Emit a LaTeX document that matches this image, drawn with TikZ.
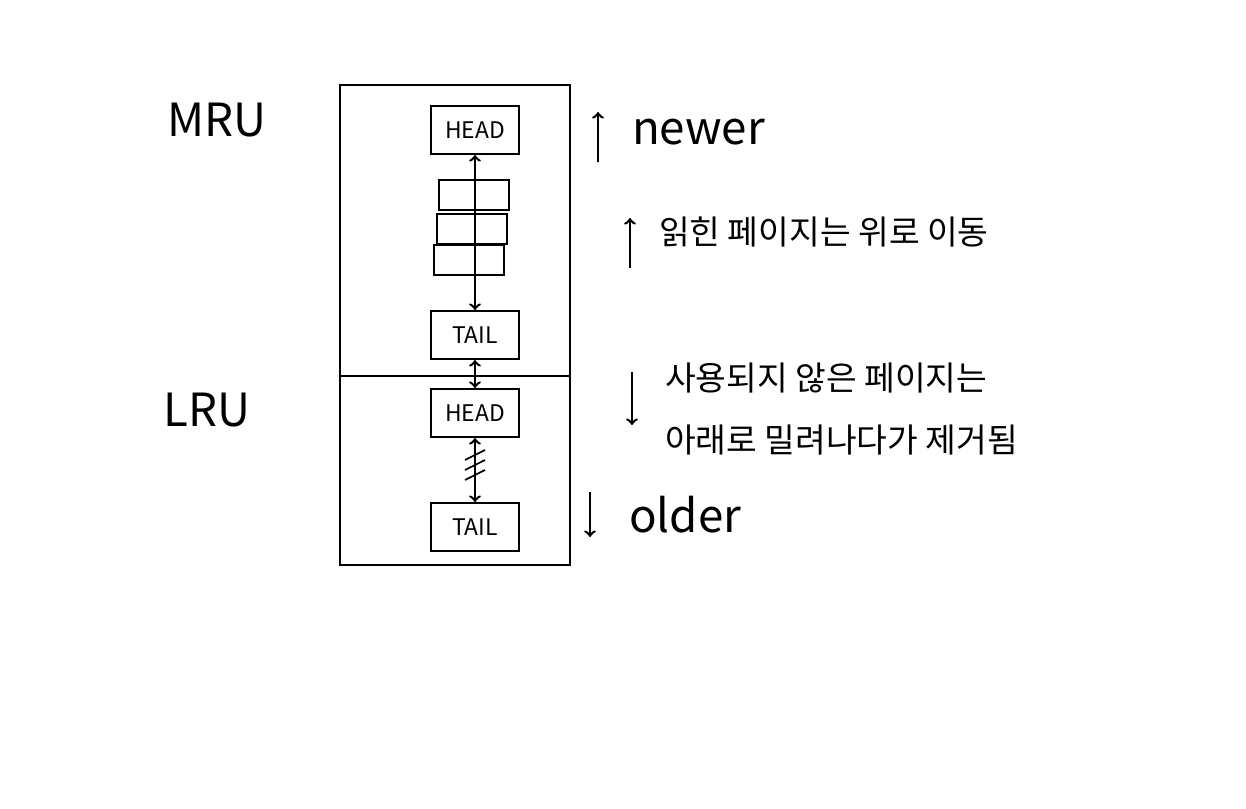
\documentclass[tikz,border=0pt]{standalone}
\usepackage{fontspec}
\setmainfont{Noto Sans CJK KR}
\usetikzlibrary{positioning}

\begin{document}
\begin{tikzpicture}[x=0.02cm, y=-0.02cm, node distance=0.3cm, line width=1.4pt,
    pagebox/.style={draw, rectangle, fill=white, minimum width=1.75cm, minimum height=0.95cm, font=\fontsize{13}{15}\selectfont},
    stackbox/.style={draw, rectangle, minimum width=1.4cm, minimum height=0.6cm},
    big/.style={font=\fontsize{26}{30}\selectfont},
    note/.style={font=\fontsize{19}{35}\selectfont, anchor=west, align=left}]
    \useasboundingbox (0,0) rectangle (1246,808);

    % frame
    \draw (340,85) rectangle (570,565);
    \draw (340,376) -- (570,376);
    \node[big] (mru) at (217,120) {MRU};
    \node[big] (lru) at (207,410) {LRU};

    % MRU part
    \node[pagebox] (mhead) at (475,130) {HEAD};
    \node[stackbox] (s1) at (474,195) {};
    \node[stackbox] (s2) at (472,229) {};
    \node[stackbox] (s3) at (469,260) {};
    \node[pagebox] (mtail) at (475,335) {TAIL};
    \draw[<->] (mhead) -- (mtail);

    % LRU part
    \node[pagebox] (lhead) at (475,413) {HEAD};
    \node[pagebox] (ltail) at (475,527) {TAIL};
    \draw[<->] (mtail) -- (lhead);
    \draw[<->] (lhead) -- (ltail);
    \foreach \y in {455,465,475} \draw[line width=1pt] (465,\y+5) -- (485,\y-5);

    % newer / older
    \coordinate (up0) at (598,162);
    \coordinate (up1) at (598,112);
    \draw[->] (up0) -- (up1);
    \node[big, anchor=west] (newer) at (625,132) {newer};
    \coordinate (dn0) at (590,492);
    \coordinate (dn1) at (590,537);
    \draw[->] (dn0) -- (dn1);
    \node[big, anchor=west] (older) at (622,515) {older};

    % notes
    \coordinate (ra0) at (630,268);
    \coordinate (ra1) at (630,218);
    \draw[->] (ra0) -- (ra1);
    \node[note] (readnote) at (652,232) {읽힌 페이지는 위로 이동};
    \coordinate (ua0) at (632,372);
    \coordinate (ua1) at (632,425);
    \draw[->] (ua0) -- (ua1);
    \node[note] (unusednote) at (658,409) {사용되지 않은 페이지는\\아래로 밀려나다가 제거됨};
\end{tikzpicture}
\end{document}
